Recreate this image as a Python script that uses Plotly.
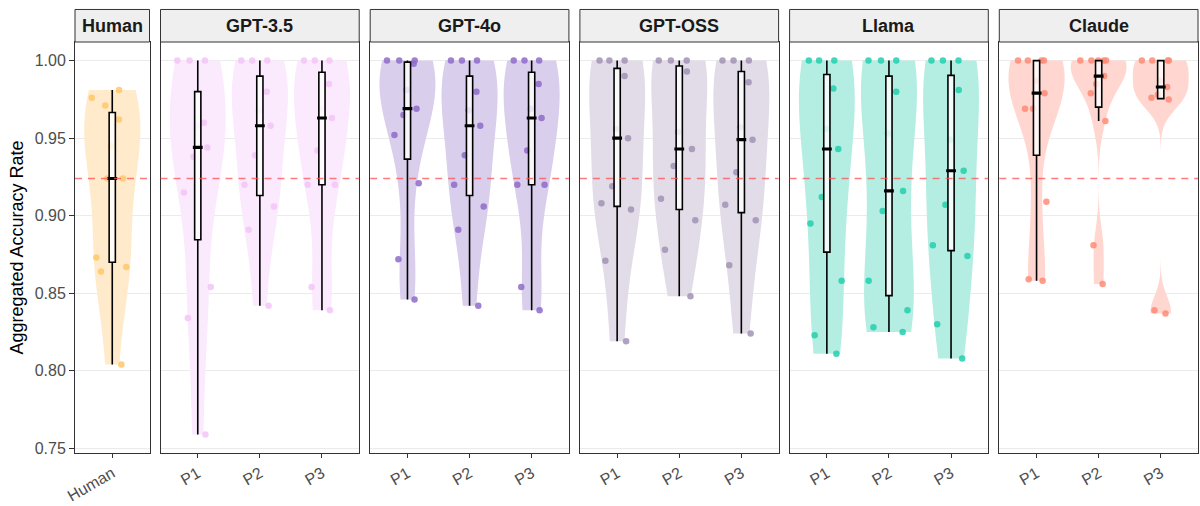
import numpy as np
import plotly.graph_objects as go

# ---------------- data ----------------
models = ["Human", "GPT-3.5", "GPT-4o", "GPT-OSS", "Llama", "Claude"]
prompts = ["P1", "P2", "P3"]

human = [0.981, 0.976, 0.971, 0.962, 0.945, 0.924, 0.924, 0.873, 0.867, 0.864, 0.804]

gpt35_p1 = [1.0, 1.0, 1.0, 0.960, 0.958, 0.944, 0.938, 0.915, 0.854, 0.834, 0.759]
gpt35_p2 = [1.0, 1.0, 1.0, 0.980, 0.968, 0.958, 0.939, 0.920, 0.906, 0.891, 0.842]
gpt35_p3 = [1.0, 1.0, 1.0, 0.985, 0.969, 0.963, 0.942, 0.920, 0.920, 0.854, 0.839]

gpt4o_p1 = [1.0, 1.0, 1.0, 0.998, 0.981, 0.969, 0.965, 0.952, 0.921, 0.872, 0.846]
gpt4o_p2 = [1.0, 1.0, 1.0, 0.980, 0.968, 0.958, 0.939, 0.920, 0.906, 0.891, 0.842]
gpt4o_p3 = [1.0, 1.0, 1.0, 0.985, 0.969, 0.963, 0.942, 0.920, 0.920, 0.854, 0.839]

oss_p1 = [1.0, 1.0, 1.0, 0.990, 0.956, 0.950, 0.919, 0.908, 0.904, 0.871, 0.819]
oss_p2 = [1.0, 1.0, 1.0, 0.993, 0.954, 0.943, 0.932, 0.911, 0.897, 0.878, 0.848]
oss_p3 = [1.0, 1.0, 1.0, 0.986, 0.957, 0.949, 0.928, 0.907, 0.897, 0.868, 0.824]

llama_p1 = [1.0, 1.0, 1.0, 0.982, 0.956, 0.943, 0.912, 0.895, 0.858, 0.823, 0.811]
llama_p2 = [1.0, 1.0, 1.0, 0.980, 0.953, 0.916, 0.903, 0.858, 0.839, 0.828, 0.825]
llama_p3 = [1.0, 1.0, 1.0, 0.981, 0.949, 0.929, 0.907, 0.881, 0.874, 0.830, 0.808]

claude_p1 = [1.0, 1.0, 1.0, 1.0, 0.987, 0.979, 0.969, 0.969, 0.909, 0.859, 0.858]
claude_p2 = [1.0, 1.0, 1.0, 1.0, 1.0, 0.990, 0.985, 0.979, 0.961, 0.881, 0.856]
claude_p3 = [1.0, 1.0, 1.0, 1.0, 0.987, 0.983, 0.978, 0.976, 0.975, 0.839, 0.837]

human_mean_line = 0.924

y_ticks = [0.75, 0.80, 0.85, 0.90, 0.95, 1.00]

groups = {
    "Human": {"Human": human},
    "GPT-3.5": {"P1": gpt35_p1, "P2": gpt35_p2, "P3": gpt35_p3},
    "GPT-4o": {"P1": gpt4o_p1, "P2": gpt4o_p2, "P3": gpt4o_p3},
    "GPT-OSS": {"P1": oss_p1, "P2": oss_p2, "P3": oss_p3},
    "Llama": {"P1": llama_p1, "P2": llama_p2, "P3": llama_p3},
    "Claude": {"P1": claude_p1, "P2": claude_p2, "P3": claude_p3},
}

violin_colors = {
    "Human": "#FFEBCB", "GPT-3.5": "#FBE9FD", "GPT-4o": "#D9CEEC",
    "GPT-OSS": "#E2DCE8", "Llama": "#B4EEE3", "Claude": "#FFD7D0",
}
point_colors = {
    "Human": "#FFC76A", "GPT-3.5": "#F2C6F7", "GPT-4o": "#8E6BCA",
    "GPT-OSS": "#A193B4", "Llama": "#22CFAE", "Claude": "#FF8B77",
}


def bw_nrd0(x):
    x = np.asarray(x, float)
    hi = np.std(x, ddof=1)
    iqr = np.percentile(x, 75) - np.percentile(x, 25)
    lo = min(hi, iqr / 1.34)
    if lo <= 0:
        lo = hi if hi > 0 else 1.0
    return 0.9 * lo * len(x) ** (-0.2)


def box_stats(x):
    x = np.asarray(x, float)
    q1, med, q3 = np.percentile(x, [25, 50, 75])
    iqr = q3 - q1
    lo = x[x >= q1 - 1.5 * iqr].min()
    hi = x[x <= q3 + 1.5 * iqr].max()
    return q1, med, q3, lo, hi


# ---------------- layout geometry ----------------
W, H = 1200, 506
ml, mr, mt, mb = 75, 1, 42, 47
gap_px = 11
units = [len(groups[m]) + 0.2 for m in models]
plot_w = W - ml - mr
px_per_unit = (plot_w - gap_px * (len(models) - 1)) / sum(units)

fig = go.Figure()
layout = dict(
    width=W, height=H,
    margin=dict(l=ml, r=mr, t=mt, b=mb),
    plot_bgcolor="white", paper_bgcolor="white",
    showlegend=False,
    violinmode="overlay", boxmode="overlay",
    font=dict(family="Liberation Sans, Arial, sans-serif"),
)
shapes, annotations = [], []

x_cursor = 0.0
strip_h = 33 / (H - mt - mb)
for i, m in enumerate(models):
    idx = "" if i == 0 else str(i + 1)
    xa, ya = "x" + idx, "y" + idx
    w = units[i] * px_per_unit
    d0 = x_cursor / plot_w
    d1 = (x_cursor + w) / plot_w
    x_cursor += w + gap_px
    cats = list(groups[m].keys())

    for c in cats:
        vals = groups[m][c]
        fig.add_trace(go.Violin(
            x=[c] * len(vals), y=vals, xaxis=xa, yaxis=ya,
            bandwidth=bw_nrd0(vals), spanmode="hard",
            scalemode="width", width=0.9,
            fillcolor=violin_colors[m], line=dict(width=0),
            points="all", jitter=1.0, pointpos=0,
            marker=dict(color=point_colors[m], size=6.5, opacity=0.85, line=dict(width=0)),
            hoverinfo="skip",
        ))
        q1, med, q3, lo, hi = box_stats(vals)
        fig.add_trace(go.Box(
            x=[c], q1=[q1], median=[med], q3=[q3], lowerfence=[lo], upperfence=[hi],
            xaxis=xa, yaxis=ya, width=0.1, whiskerwidth=0,
            fillcolor="rgba(255,255,255,0.8)", line=dict(color="black", width=1.6),
            boxpoints=False, hoverinfo="skip",
        ))
        fig.add_trace(go.Scatter(
            x=[c], y=[med], xaxis=xa, yaxis=ya, mode="markers",
            marker=dict(symbol="line-ew", size=7, line=dict(width=3.2, color="black")),
            hoverinfo="skip",
        ))

    layout["xaxis" + idx] = dict(
        domain=[d0, d1], anchor=ya, type="category", categoryorder="array",
        categoryarray=cats, range=[-0.6, len(cats) - 0.4],
        showgrid=False, zeroline=False, showline=True, mirror=True,
        linecolor="#333333", linewidth=1,
        ticks="outside", ticklen=4, tickwidth=1.2, tickcolor="#333333",
        tickangle=-30, tickfont=dict(size=16, color="#4D4D4D"),
    )
    yax = dict(
        domain=[0, 1], anchor=xa, range=[0.747, 1.012],
        tickvals=y_ticks, ticktext=["%.2f" % v for v in y_ticks],
        showgrid=True, gridcolor="#EBEBEB", gridwidth=1, zeroline=False,
        showline=True, mirror=True, linecolor="#333333", linewidth=1,
    )
    if i == 0:
        yax.update(ticks="outside", ticklen=5, tickwidth=1.2, tickcolor="#333333",
                   tickfont=dict(size=16, color="#4D4D4D"),
                   title=dict(text="Aggregated Accuracy Rate",
                              font=dict(size=18, color="black"), standoff=6))
    else:
        yax.update(matches="y", showticklabels=False, ticks="")
    layout["yaxis" + idx] = yax

    shapes.append(dict(type="line", xref=xa + " domain", yref=ya, x0=0, x1=1,
                       y0=human_mean_line, y1=human_mean_line,
                       line=dict(color="rgba(255,80,80,0.75)", width=1.5, dash="7px,6px"),
                       layer="above"))
    shapes.append(dict(type="rect", xref=xa + " domain", yref="paper", x0=0, x1=1,
                       y0=1.0, y1=1.0 + strip_h, fillcolor="#EFEFEF",
                       line=dict(color="#333333", width=1), layer="above"))
    annotations.append(dict(text="<b>%s</b>" % m, xref=xa + " domain", yref="paper",
                            x=0.5, y=1.0 + strip_h / 2, showarrow=False,
                            xanchor="center", yanchor="middle",
                            font=dict(size=18, color="#1A1A1A")))

layout["shapes"] = shapes
layout["annotations"] = annotations
fig.update_layout(**layout)
fig.write_html("out.html")
